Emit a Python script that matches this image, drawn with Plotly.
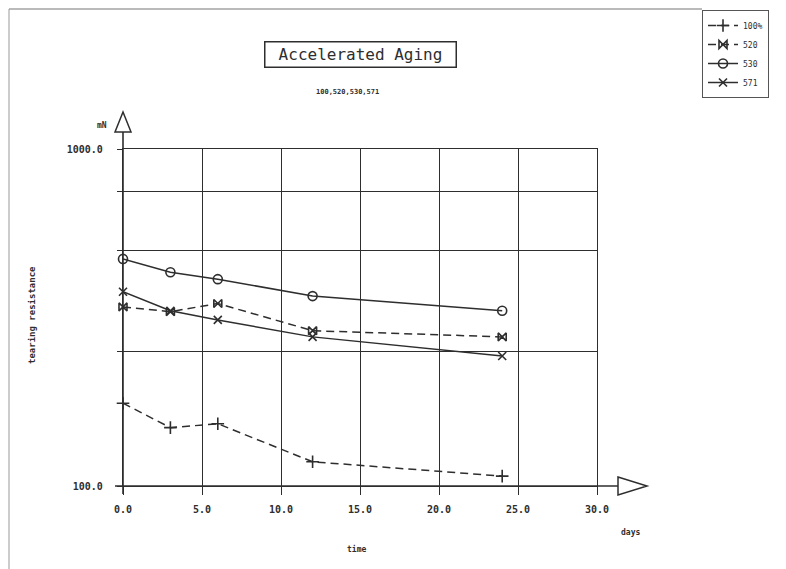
import plotly.graph_objects as go

# ---- data ----
days = [0, 3, 6, 12, 24]
s100 = [176, 149, 153, 118, 107]
s520 = [340, 329, 348, 289, 277]
s530 = [472, 431, 411, 366, 331]
s571 = [377, 331, 311, 277, 243]

series_names = ["100%", "520", "530", "571"]
x_ticks = [0, 5, 10, 15, 20, 25, 30]
x_ticktext = ["0.0", "5.0", "10.0", "15.0", "20.0", "25.0", "30.0"]
y_ticks = [100, 250, 500, 750, 1000]
y_ticktext = ["100.0", "", "", "", "1000.0"]

INK = "#2e2e2e"
MONO = "DejaVu Sans Mono"

fig = go.Figure()

specs = [
    (series_names[0], s100, "8px,5px", "cross-thin-open", 9),
    (series_names[1], s520, "8px,5px", "bowtie-open", 8),
    (series_names[2], s530, "solid", "circle-open", 9),
    (series_names[3], s571, "solid", "x-thin-open", 8),
]
for name, vals, dash, sym, size in specs:
    fig.add_trace(go.Scatter(
        x=days, y=vals, name=name, mode="lines+markers", cliponaxis=False,
        line=dict(color=INK, width=1.5, dash=dash),
        marker=dict(symbol=sym, size=size, color=INK,
                    line=dict(color=INK, width=1.6)),
    ))

# page offset of the figure (body margin of the html page)
OFF = 8
FIG_W, FIG_H = 786 - OFF, 569 - OFF
# plot area in page pixels: x 123..597, y 149..486
L, R, T, B = 123, 597, 149, 486
W, H = R - L, B - T


def px(xp):
    return (xp - L) / W


def py(yp):
    return (B - yp) / H


shapes = []
# axis lines extending beyond the grid
shapes.append(dict(type="line", xref="paper", yref="paper",
                   x0=px(115), x1=px(618), y0=0, y1=0,
                   line=dict(color=INK, width=1.6)))
shapes.append(dict(type="line", xref="paper", yref="paper",
                   x0=0, x1=0, y0=py(494), y1=py(132),
                   line=dict(color=INK, width=1.6)))
# open arrow heads
shapes.append(dict(type="path", xref="paper", yref="paper",
                   path=f"M {px(115)} {py(132)} L {px(123)} {py(112)} L {px(131)} {py(132)} Z",
                   fillcolor="white", line=dict(color=INK, width=1.5)))
shapes.append(dict(type="path", xref="paper", yref="paper",
                   path=f"M {px(618)} {py(477)} L {px(647)} {py(486)} L {px(618)} {py(495)} Z",
                   fillcolor="white", line=dict(color=INK, width=1.5)))
# page frame (top / left)
shapes.append(dict(type="line", xref="paper", yref="paper",
                   x0=px(9), x1=px(702), y0=py(9), y1=py(9),
                   line=dict(color="#777", width=1.2)))
shapes.append(dict(type="line", xref="paper", yref="paper",
                   x0=px(9), x1=px(9), y0=py(9), y1=py(569),
                   line=dict(color="#999", width=1)))

annotations = [
    dict(text="Accelerated Aging", xref="paper", yref="paper",
         x=px(360.5), y=py(54.5), xanchor="center", yanchor="middle",
         showarrow=False, font=dict(family=MONO, size=16, color=INK),
         bordercolor=INK, borderwidth=1.5, borderpad=2, width=186, height=20),
    dict(text="<b>100,520,530,571</b>", xref="paper", yref="paper",
         x=px(347), y=py(92), xanchor="center", yanchor="middle",
         showarrow=False, font=dict(family=MONO, size=7, color=INK)),
    dict(text="<b>mN</b>", xref="paper", yref="paper",
         x=px(102), y=py(125), xanchor="center", yanchor="middle",
         showarrow=False, font=dict(family=MONO, size=8, color=INK)),
    dict(text="<b>tearing resistance</b>", xref="paper", yref="paper",
         x=px(32), y=py(315), xanchor="center", yanchor="middle",
         textangle=-90, showarrow=False,
         font=dict(family=MONO, size=9, color=INK)),
    dict(text="<b>time</b>", xref="paper", yref="paper",
         x=px(356), y=py(549), xanchor="center", yanchor="middle",
         showarrow=False, font=dict(family=MONO, size=8, color=INK)),
    dict(text="<b>days</b>", xref="paper", yref="paper",
         x=px(630), y=py(532), xanchor="center", yanchor="middle",
         showarrow=False, font=dict(family=MONO, size=8, color=INK)),
]

fig.update_layout(
    width=FIG_W, height=FIG_H,
    margin=dict(l=L - OFF, r=FIG_W - (R - OFF), t=T - OFF, b=FIG_H - (B - OFF),
                pad=0, autoexpand=False),
    paper_bgcolor="white", plot_bgcolor="white",
    shapes=shapes, annotations=annotations,
    showlegend=True,
    legend=dict(x=px(702), y=py(10), xanchor="left", yanchor="top",
                bordercolor="#555", borderwidth=1, bgcolor="white",
                font=dict(family=MONO, size=8, color=INK),
                tracegroupgap=0),
    xaxis=dict(range=[0, 30], tickvals=x_ticks, ticktext=x_ticktext,
               showgrid=True, gridcolor=INK, gridwidth=1.4,
               zeroline=False, showline=True, mirror=True,
               linecolor=INK, linewidth=1.4,
               ticks="outside", ticklen=8, tickwidth=1.4, tickcolor=INK,
               ticklabelstandoff=6,
               tickfont=dict(family=MONO, size=10, color=INK, weight="bold")),
    yaxis=dict(type="log", range=[2, 3], tickvals=y_ticks, ticktext=y_ticktext,
               showgrid=True, gridcolor=INK, gridwidth=1.4,
               zeroline=False, showline=True, mirror=True,
               linecolor=INK, linewidth=1.4,
               ticks="outside", ticklen=5, tickwidth=1.4, tickcolor=INK,
               ticklabelstandoff=12,
               tickfont=dict(family=MONO, size=10, color=INK, weight="bold")),
)

fig.write_html("out.html")
